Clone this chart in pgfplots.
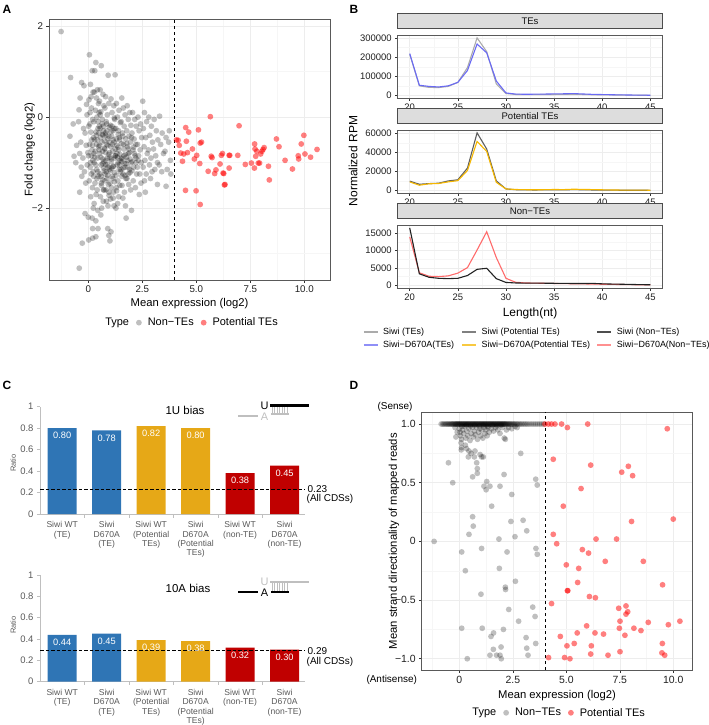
\documentclass[border=0pt]{standalone}
\usepackage{fontspec}
\setmainfont{Liberation Sans}
\usepackage{pgfplots}
\pgfplotsset{compat=1.18}
\definecolor{cblue}{HTML}{2F75B5}
\definecolor{corange}{HTML}{E6A817}
\definecolor{cred}{HTML}{C00000}
\definecolor{lgray}{HTML}{ABABAB}
\definecolor{mgray}{HTML}{5E5E5E}
\definecolor{dgray}{HTML}{222222}
\definecolor{lblue}{HTML}{6A6AF4}
\definecolor{lgold}{HTML}{F5B700}
\definecolor{lred}{HTML}{FF6B6B}
\definecolor{cgtxt}{HTML}{595959}
\definecolor{caxis}{HTML}{BFBFBF}
\pgfplotsset{
 gg/.style={scale only axis, anchor=north west, tick pos=left, tick align=outside,
   axis line style={draw=gray!70!black, line width=0.6bp},
   major tick length=2.5bp, minor tick length=0bp,
   tick style={draw=gray!40!black, line width=0.5bp},
   grid=both, major grid style={draw=gray!14, line width=0.5bp},
   minor grid style={draw=gray!7, line width=0.3bp},
   ticklabel style={font=\fontsize{9.8}{11}\selectfont, text=gray!25!black},
   label style={font=\fontsize{11.3}{13}\selectfont},
   /pgf/number format/assume math mode=true},
 nonte/.style={only marks, mark=*, mark size=2.9bp, mark options={draw=black, fill=black, draw opacity=0, fill opacity=0.25},
   legend image code/.code={\draw[##1] plot coordinates {(0bp,0bp)};}},
 pte/.style={only marks, mark=*, mark size=2.9bp, mark options={draw=red, fill=red, draw opacity=0, fill opacity=0.5},
   legend image code/.code={\draw[##1] plot coordinates {(0bp,0bp)};}},
 ggleg/.style={legend columns=-1, legend style={draw=none, fill=none, at={#1}, anchor=center,
   font=\fontsize{11}{13}\selectfont, /tikz/column sep=0bp,
   /tikz/every odd column/.append style={column sep=4bp},
   /tikz/every even column/.append style={column sep=5bp}}},
 bb/.style={gg, width=264.6bp, height=63.3bp, xmin=18.75, xmax=46.25,
   xtick={20,25,30,35,40,45}, minor xtick={22.5,27.5,32.5,37.5,42.5},
   scaled y ticks=false, ticklabel style={font=\fontsize{9.5}{11}\selectfont},
   title style={at={(0.5,1)}, anchor=south, draw=gray!60!black, line width=0.6bp, fill=gray!27,
     minimum width=264.6bp, minimum height=15.7bp, inner sep=0pt,
     font=\fontsize{9.6}{11}\selectfont, text=gray!15!black},
   every axis plot/.append style={line width=1.1bp, no markers}},
 bleg/.style={legend columns=3, legend cell align=left,
   legend image code/.code={\draw[##1] (0bp,0bp) -- (14bp,0bp);},
   legend style={draw=none, fill=none, inner sep=0pt, outer sep=0pt, at={#1}, anchor=west,
     font=\fontsize{9}{10}\selectfont, nodes={inner sep=0pt}, /tikz/column sep=0bp,
     /tikz/every odd column/.append style={column sep=4.7bp}}},
 cc/.style={scale only axis, anchor=north west, width=265bp, xmin=-0.5, xmax=5.46, ymin=0, ymax=1, clip=false,
   axis lines*=left, axis line style={-, draw=caxis, line width=0.7bp}, tick align=outside,
   tick style={draw=caxis, line width=0.6bp}, major tick length=3bp,
   ytick={0,0.2,0.4,0.6,0.8,1}, yticklabels={0,0.2,0.4,0.6,0.8,1},
   yticklabel style={font=\fontsize{9.5}{11}\selectfont, text=cgtxt},
   xtick={0,1,2,3,4,5}, xtick style={draw=none},
   xticklabels={{Siwi WT\\(TE)},{Siwi\\D670A\\(TE)},{Siwi WT\\(Potential\\TEs)},{Siwi\\D670A\\(Potential\\TEs)},{Siwi WT\\(non-TE)},{Siwi\\D670A\\(non-TE)}},
   xticklabel style={align=center, anchor=north, font=\fontsize{8.6}{9.3}\selectfont, text=cgtxt, inner sep=0pt, yshift=-4.5bp},
   nodes near coords, point meta=explicit symbolic,
   every node near coord/.append style={anchor=center, yshift=-7.5bp, text=white, font=\fontsize{9.3}{11}\selectfont},
   /pgf/number format/assume math mode=true},
 cbar/.style={ybar, bar width=29bp, bar shift=0pt, draw=none, fill=#1},
}
\begin{document}
\begin{tikzpicture}
\useasboundingbox (0,0) rectangle (709bp,-725bp);
\node[font=\bfseries\fontsize{12}{14}\selectfont] at (7bp,-9bp) {A};
\node[font=\bfseries\fontsize{12}{14}\selectfont] at (354bp,-9bp) {B};
\node[font=\bfseries\fontsize{12}{14}\selectfont] at (7bp,-385bp) {C};
\node[font=\bfseries\fontsize{12}{14}\selectfont] at (354bp,-385bp) {D};

% ---------------- Panel A ----------------
\begin{axis}[gg, at={(49bp,-19.3bp)}, width=281bp, height=260.7bp,
  xmin=-1.82, xmax=11.19, ymin=-3.58, ymax=2.15,
  xtick={0,2.5,5,7.5,10}, xticklabels={0,2.5,5.0,7.5,10.0},
  minor xtick={-1.25,1.25,3.75,6.25,8.75},
  ytick={-2,0,2}, yticklabels={−2,0,2}, minor ytick={-3,-1,1},
  xlabel={Mean expression (log2)}, ylabel={Fold change (log2)},
  ylabel shift=-10bp, xlabel shift=-1.5bp,
  ggleg={(0.5,-0.1636)}]
\addlegendimage{empty legend}\addlegendentry{Type}
\draw[black, dashed, line width=0.6bp] (axis cs:4,-3.58) -- (axis cs:4,2.15);
\addplot[nonte] coordinates {
(-1.26,1.88)(-0.82,0.87)(-0.85,-0.42)(-0.54,-0.62)(-0.66,-0.86)(-0.7,-0.15)(-0.58,-1.0)
(-0.38,0.42)(-0.43,0.16)(-0.31,0.76)(-0.2,0.69)(-0.45,-0.1)(-0.15,-0.35)(-0.35,-0.55)(-0.1,-0.62)(-0.4,-0.8)(-0.25,-0.9)(-0.05,-1.05)(-0.3,-1.3)(-0.12,-1.45)(-0.4,-1.65)(-0.15,-2.12)(-0.28,-2.77)(-0.42,-3.32)(-0.08,0.28)(-0.22,-0.25)(-0.33,-1.1)(-0.18,-1.2)(-0.02,-0.78)(-0.06,0.05)
(0.05,1.37)(0.18,1.02)(0.1,0.72)(0.22,0.55)(0.03,0.38)(0.15,0.2)(0.08,0.1)(0.2,-0.05)(0.02,-0.2)(0.12,-0.33)(0.24,-0.45)(0.06,-0.6)(0.17,-0.72)(0.01,-0.85)(0.21,-0.95)(0.09,-1.1)(0.14,-1.25)(0.04,-1.4)(0.19,-1.55)(0.11,-1.75)(0.23,-2.0)(0.0,-2.2)(0.2,-2.45)(0.02,-2.7)(0.13,0.45)(0.07,-0.15)(0.16,-0.5)(0.1,-1.0)(0.22,-1.2)(0.18,-2.22)(0.2,-2.66)
(0.35,1.2)(0.3,1.02)(0.42,0.6)(0.28,0.55)(0.47,0.3)(0.33,0.15)(0.4,0.0)(0.26,-0.1)(0.45,-0.25)(0.37,-0.4)(0.29,-0.5)(0.48,-0.65)(0.32,-0.75)(0.43,-0.9)(0.27,-1.0)(0.39,-1.15)(0.46,-1.3)(0.31,-1.45)(0.41,-1.6)(0.36,-1.7)(0.27,-1.9)(0.44,-2.05)(0.35,-2.28)(0.45,-2.45)(0.35,-2.63)(0.38,0.42)(0.49,-0.35)(0.26,-0.8)(0.34,-1.05)(0.44,-1.2)(0.39,-0.6)
(0.6,1.13)(0.55,0.6)(0.68,0.5)(0.52,0.35)(0.72,0.25)(0.58,0.12)(0.65,-0.05)(0.51,-0.2)(0.7,-0.3)(0.57,-0.45)(0.63,-0.55)(0.74,-0.68)(0.53,-0.8)(0.67,-0.92)(0.59,-1.05)(0.71,-1.12)(0.54,-1.25)(0.66,-1.38)(0.61,-1.5)(0.73,-1.6)(0.56,-1.75)(0.69,-1.85)(0.62,-2.0)(0.58,-2.15)(0.64,-0.15)(0.52,-0.62)(0.72,-0.98)(0.6,-1.3)(0.69,-0.4)(0.55,0.05)(0.66,-0.75)
(0.92,0.92)(0.8,0.45)(0.95,0.3)(0.77,0.2)(0.88,0.05)(0.83,-0.1)(0.97,-0.22)(0.79,-0.35)(0.9,-0.48)(0.85,-0.6)(0.76,-0.7)(0.94,-0.82)(0.81,-0.95)(0.89,-1.05)(0.98,-1.15)(0.78,-1.25)(0.87,-1.35)(0.93,-1.48)(0.82,-1.6)(0.96,-1.72)(0.84,-1.85)(0.91,-1.95)(0.9,-2.45)(0.95,-2.6)(0.86,-0.3)(0.8,-0.78)(0.93,-1.1)(0.77,-1.4)(0.98,-0.55)(0.88,-0.9)(0.83,-1.2)
(1.05,0.4)(1.18,0.25)(1.1,0.1)(1.22,-0.05)(1.02,-0.18)(1.15,-0.3)(1.08,-0.42)(1.2,-0.55)(1.04,-0.65)(1.13,-0.75)(1.24,-0.85)(1.06,-0.97)(1.17,-1.08)(1.01,-1.18)(1.11,-1.3)(1.21,-1.42)(1.07,-1.55)(1.16,-1.65)(1.03,-1.8)(1.19,-1.95)(1.05,-2.52)(1.0,-2.72)(1.12,-0.6)(1.23,-0.9)(1.09,-1.12)(1.14,-1.35)(1.2,-0.25)(1.24,0.93)
(1.3,0.3)(1.42,0.15)(1.35,0.0)(1.48,-0.12)(1.27,-0.25)(1.39,-0.38)(1.45,-0.5)(1.32,-0.62)(1.4,-0.72)(1.26,-0.85)(1.47,-0.95)(1.34,-1.05)(1.43,-1.15)(1.29,-1.28)(1.37,-1.4)(1.46,-1.5)(1.31,-1.62)(1.41,-1.75)(1.36,-1.9)(1.28,-2.0)(1.44,-0.45)(1.33,-0.8)(1.38,-1.0)(1.49,-1.2)
(1.55,0.42)(1.62,0.2)(1.7,0.05)(1.52,-0.1)(1.66,-0.2)(1.58,-0.35)(1.73,-0.48)(1.54,-0.58)(1.64,-0.7)(1.71,-0.82)(1.57,-0.92)(1.68,-1.02)(1.51,-1.15)(1.61,-1.25)(1.74,-1.35)(1.56,-1.5)(1.67,-1.65)(1.6,-1.78)(1.72,-1.95)(1.63,-0.6)(1.53,-0.9)(1.69,-1.1)
(1.8,0.25)(1.92,0.1)(1.85,-0.05)(1.97,-0.18)(1.78,-0.3)(1.88,-0.42)(1.95,-0.55)(1.82,-0.65)(1.9,-0.78)(1.77,-0.88)(1.98,-1.0)(1.84,-1.1)(1.93,-1.22)(1.79,-1.35)(1.87,-1.48)(1.96,-1.6)(1.75,-2.22)(1.86,-0.7)(1.81,-0.95)(1.91,-1.15)
(2.05,0.1)(2.15,-0.05)(2.22,-0.2)(2.02,-0.35)(2.12,-0.48)(2.2,-0.6)(2.07,-0.72)(2.17,-0.85)(2.03,-0.98)(2.1,-1.1)(2.24,-1.25)(2.08,-1.4)(2.18,-1.55)(2.0,-2.05)(2.13,-0.8)(2.21,-1.0)
(2.3,0.0)(2.42,-0.15)(2.35,-0.3)(2.47,-0.45)(2.28,-0.6)(2.4,-0.72)(2.33,-0.85)(2.45,-1.0)(2.27,-1.1)(2.38,-1.25)(2.44,-1.45)(2.36,-1.7)(2.31,-0.95)
(2.52,0.35)(2.6,0.1)(2.7,-0.1)(2.55,-0.25)(2.66,-0.45)(2.58,-0.65)(2.73,-0.8)(2.62,-0.95)(2.54,-1.1)(2.68,-1.25)(2.6,-1.4)(2.64,-1.65)
(2.8,0.0)(2.92,-0.2)(2.85,-0.4)(2.97,-0.55)(2.78,-0.72)(2.9,-0.9)(2.83,-1.05)(2.95,-1.2)(2.88,-1.35)
(3.05,-0.05)(3.15,-0.3)(3.22,-0.5)(3.02,-0.7)(3.12,-0.85)(3.2,-1.0)(3.08,-1.15)(3.2,-1.48)
(3.3,0.02)(3.42,-0.35)(3.35,-0.6)(3.48,-0.8)(3.28,-1.05)(3.4,-1.2)
(3.6,-0.45)(3.72,-0.55)(3.55,-0.75)(3.8,-0.95)(3.65,-1.15)(3.82,-1.25)(3.6,-1.52)(3.75,-0.3)
(0.35,-0.33)(0.42,-0.5)(0.5,-0.72)(0.58,-0.88)(0.66,-1.02)(0.74,-1.18)(0.82,-0.4)(0.9,-0.62)(0.98,-0.78)(1.06,-0.92)(1.14,-1.08)(1.22,-1.22)(1.3,-0.48)(1.38,-0.66)(1.46,-0.82)(1.54,-0.98)(1.62,-1.12)(1.7,-1.28)(1.78,-0.58)(1.86,-0.8)(1.94,-0.92)(2.02,-1.18)(2.1,-0.66)(0.45,-0.1)(0.55,-0.25)(0.65,-0.38)(0.75,-0.52)(0.85,-0.15)(0.95,-0.42)(1.05,-0.32)(1.15,-0.5)(1.25,-0.7)(1.35,-0.88)(1.45,-1.05)(1.55,-1.3)(1.65,-0.85)(1.75,-1.02)(1.85,-1.25)(0.6,-1.45)(0.7,-1.6)(0.8,-1.05)(0.9,-1.28)(1.0,-1.45)(1.1,-0.2)(1.2,-0.02)(1.0,-0.88)(0.7,-0.2)(0.5,0.1)(0.4,-1.35)(1.3,-1.55)(1.4,-0.3)(0.95,-1.65)(1.15,-1.78)(2.0,-0.45)(2.2,-0.9)(1.6,-0.42)(0.3,-0.88)(0.2,-0.62)(0.25,-1.3)(0.15,-0.85)
};
\addlegendentry{Non−TEs}
\addplot[pte] coordinates {
(4.08,-0.50)(4.16,-0.51)(4.21,-0.62)(4.28,-0.79)(4.36,-0.97)(4.51,-0.23)(4.54,-0.53)(4.65,-0.33)(4.59,-0.78)(4.42,-0.81)(4.50,-1.61)(4.82,-0.70)(4.91,-0.92)(5.02,-0.84)(5.10,-0.28)(5.18,-0.57)(5.24,-0.55)(5.16,-1.02)(4.99,-1.62)(5.18,-1.92)(5.55,-1.19)(5.65,0.01)(5.69,-0.86)(5.73,-0.89)(5.85,-1.24)(5.91,-1.16)(6.10,-1.03)(6.16,-0.84)(6.21,-0.80)(6.24,-1.23)(6.27,-1.24)(6.30,-1.49)(6.33,-1.48)(6.52,-1.12)(6.52,-0.84)(6.55,-0.84)(6.92,-0.84)(6.98,-0.19)(7.27,-1.04)(7.55,-1.01)(7.69,-1.12)(7.70,-0.59)(7.72,-0.70)(7.75,-0.86)(7.80,-0.75)(7.87,-1.01)(7.93,-1.01)(7.98,-0.81)(8.04,-0.75)(8.09,-0.71)(8.14,-0.67)(8.34,-1.08)(8.38,-1.38)(8.71,-0.48)(8.83,-0.65)(9.11,-0.95)(9.45,-1.14)(9.72,-0.85)(9.74,-0.92)(9.86,-0.59)(9.98,-0.40)(10.03,-0.81)(10.29,-0.88)(10.59,-0.71)
};
\addlegendentry{Potential TEs}
\end{axis}

% ---------------- Panel B ----------------
\node[rotate=90, font=\fontsize{12}{14}\selectfont] at (353bp,-161bp) {Normalized RPM};
\begin{axis}[bb, at={(397.7bp,-35bp)}, title={TEs}, ymin=-15000, ymax=315000,
  ytick={0,100000,200000,300000}, yticklabels={0,100000,200000,300000},
  minor ytick={50000,150000,250000}]
\addplot[lgray] coordinates {(20,215000)(21,50000)(22,42000)(23,41000)(24,47000)(25,68000)(26,145000)(27,300000)(28,228000)(29,60000)(30,10000)(31,5000)(32,4000)(33,4000)(34,5000)(35,5000)(36,5500)(37,6000)(38,5000)(39,3500)(40,3000)(41,2500)(42,2000)(43,1500)(44,1000)(45,500)};
\addplot[lblue] coordinates {(20,218000)(21,53000)(22,47000)(23,44000)(24,50000)(25,68000)(26,130000)(27,268000)(28,222000)(29,75000)(30,13000)(31,7000)(32,6000)(33,6500)(34,7000)(35,8000)(36,8500)(37,9500)(38,7500)(39,5500)(40,4500)(41,3500)(42,2800)(43,2000)(44,1500)(45,1000)};
\end{axis}
\begin{axis}[bb, at={(397.7bp,-130bp)}, title={Potential TEs}, ymin=-3000, ymax=63500,
  ytick={0,20000,40000,60000}, yticklabels={0,20000,40000,60000},
  minor ytick={10000,30000,50000}, bleg={(-0.1311,-2.3965)}]
\addplot[mgray, forget plot] coordinates {(20,9800)(21,6500)(22,7200)(23,7600)(24,10000)(25,11200)(26,23500)(27,60500)(28,43500)(29,10000)(30,1600)(31,800)(32,600)(33,500)(34,600)(35,700)(36,600)(37,900)(38,700)(39,500)(40,400)(41,300)(42,250)(43,200)(44,200)(45,150)};
\addplot[lgold, forget plot] coordinates {(20,9000)(21,5500)(22,7000)(23,7300)(24,9000)(25,10300)(26,21000)(27,51500)(28,41000)(29,8500)(30,1600)(31,1000)(32,800)(33,700)(34,800)(35,1000)(36,900)(37,1300)(38,1100)(39,900)(40,700)(41,500)(42,400)(43,300)(44,300)(45,250)};
\addlegendimage{color=lblue!75, line width=1.5bp}\addlegendentry{\makebox[78.3bp][l]{Siwi−D670A(TEs)}}
\addlegendimage{color=lgold!75, line width=1.5bp}\addlegendentry{\makebox[115bp][l]{Siwi−D670A(Potential TEs)}}
\addlegendimage{color=lred!75, line width=1.5bp}\addlegendentry{Siwi−D670A(Non−TEs)}
\end{axis}
\begin{axis}[bb, at={(397.7bp,-225bp)}, title={Non−TEs}, ymin=-900, ymax=17450,
  ytick={0,5000,10000,15000}, yticklabels={0,5000,10000,15000},
  minor ytick={2500,7500,12500},
  xlabel={Length(nt)}, xlabel style={font=\fontsize{12}{14}\selectfont},
  bleg={(-0.1311,-0.6935)}]
\addplot[lred, forget plot] coordinates {(20,14000)(21,3600)(22,2600)(23,2500)(24,2700)(25,3500)(26,5100)(27,10200)(28,15500)(29,8000)(30,2000)(31,850)(32,650)(33,600)(34,550)(35,500)(36,450)(37,420)(38,380)(39,330)(40,280)(41,230)(42,200)(43,160)(44,120)(45,100)};
\addplot[dgray, forget plot] coordinates {(20,16600)(21,3300)(22,2300)(23,2000)(24,1900)(25,2000)(26,2800)(27,4600)(28,4900)(29,1900)(30,800)(31,650)(32,600)(33,600)(34,580)(35,550)(36,520)(37,500)(38,480)(39,520)(40,400)(41,330)(42,280)(43,220)(44,160)(45,120)};
\addlegendimage{color=lgray, line width=1.5bp}\addlegendentry{\makebox[78.3bp][l]{Siwi (TEs)}}
\addlegendimage{color=gray, line width=1.5bp}\addlegendentry{\makebox[115bp][l]{Siwi (Potential TEs)}}
\addlegendimage{color=dgray!80, line width=1.5bp}\addlegendentry{Siwi (Non−TEs)}
\end{axis}

% ---------------- Panel C ----------------
\begin{axis}[cc, at={(40bp,-406.7bp)}, height=107.3bp]
\addplot[cbar=cblue] coordinates {(0,0.80)[0.80] (1,0.78)[0.78]};
\addplot[cbar=corange] coordinates {(2,0.82)[0.82] (3,0.80)[0.80]};
\addplot[cbar=cred] coordinates {(4,0.38)[0.38] (5,0.45)[0.45]};
\pgfplotsinvokeforeach{0.5,1.5,2.5,3.5,4.5}{\draw[caxis, line width=0.6bp] (axis cs:#1,0) -- ++(0bp,-3.5bp);}
\draw[black, line width=1.2bp, dash pattern=on 3.5bp off 2bp] (axis cs:-0.5,0.23) -- (axis cs:5.46,0.23);
\end{axis}
\begin{axis}[cc, at={(40bp,-575bp)}, height=106.7bp]
\addplot[cbar=cblue] coordinates {(0,0.44)[0.44] (1,0.45)[0.45]};
\addplot[cbar=corange] coordinates {(2,0.39)[0.39] (3,0.38)[0.38]};
\addplot[cbar=cred] coordinates {(4,0.32)[0.32] (5,0.30)[0.30]};
\pgfplotsinvokeforeach{0.5,1.5,2.5,3.5,4.5}{\draw[caxis, line width=0.6bp] (axis cs:#1,0) -- ++(0bp,-3.5bp);}
\draw[black, line width=1.2bp, dash pattern=on 3.5bp off 2bp] (axis cs:-0.5,0.29) -- (axis cs:5.46,0.29);
\end{axis}
\node[rotate=90, font=\fontsize{7.5}{9}\selectfont, text=cgtxt] at (13.3bp,-463bp) {Ratio};
\node[rotate=90, font=\fontsize{7.5}{9}\selectfont, text=cgtxt] at (13.3bp,-625bp) {Ratio};
\node[font=\fontsize{11.5}{13}\selectfont] at (185bp,-410bp) {1U bias};
\node[font=\fontsize{11.5}{13}\selectfont] at (188bp,-588.3bp) {10A bias};
\node[anchor=west, font=\fontsize{10}{12}\selectfont, inner sep=0pt] at (307.5bp,-488.8bp) {0.23};
\node[anchor=west, font=\fontsize{10}{12}\selectfont, inner sep=0pt] at (306.5bp,-499bp) {(All CDSs)};
\node[anchor=west, font=\fontsize{10}{12}\selectfont, inner sep=0pt] at (307.5bp,-650.8bp) {0.29};
\node[anchor=west, font=\fontsize{10}{12}\selectfont, inner sep=0pt] at (306.5bp,-661.5bp) {(All CDSs)};
% 1U diagram
\foreach \xx in {272,274.5,277,279.5,282,284.5,287} {\draw[caxis, line width=0.5bp] (\xx bp,-406.5bp) -- (\xx bp,-414bp);}
\draw[black, line width=2.3bp] (270bp,-405.5bp) -- (308.5bp,-405.5bp);
\draw[caxis, line width=2bp] (238bp,-415.5bp) -- (258bp,-415.5bp);
\draw[caxis, line width=1.5bp] (271bp,-414.2bp) -- (289bp,-414.2bp);
\node[font=\fontsize{11}{12}\selectfont, inner sep=0pt] at (264.5bp,-405.5bp) {U};
\node[font=\fontsize{11}{12}\selectfont, inner sep=0pt, text=caxis] at (264.5bp,-416.5bp) {A};
% 10A diagram
\foreach \xx in {272,274.5,277,279.5,282,284.5,287} {\draw[caxis, line width=0.5bp] (\xx bp,-583bp) -- (\xx bp,-591bp);}
\draw[caxis, line width=2.3bp] (270bp,-581.7bp) -- (308.5bp,-581.7bp);
\draw[black, line width=2.3bp] (238bp,-592.3bp) -- (258bp,-592.3bp);
\draw[black, line width=2.3bp] (271bp,-592.3bp) -- (289bp,-592.3bp);
\node[font=\fontsize{11}{12}\selectfont, inner sep=0pt, text=caxis] at (264.5bp,-582bp) {U};
\node[font=\fontsize{11}{12}\selectfont, inner sep=0pt] at (264.5bp,-592.5bp) {A};

% ---------------- Panel D ----------------
\begin{axis}[gg, at={(421.7bp,-412.3bp)}, width=270.6bp, height=257.7bp,
  xmin=-1.76, xmax=10.89, ymin=-1.096, ymax=1.10,
  xtick={0,2.5,5,7.5,10}, xticklabels={0,2.5,5.0,7.5,10.0},
  minor xtick={-1.25,1.25,3.75,6.25,8.75},
  ytick={-1,-0.5,0,0.5,1}, yticklabels={−1.0,−0.5,0,0.5,1.0}, minor ytick={-0.75,-0.25,0.25,0.75},
  ticklabel style={font=\fontsize{10.5}{12}\selectfont},
  xlabel={Mean expression (log2)}, ylabel={Mean strand directionality of mapped reads},
  ylabel shift=-11bp,
  ggleg={(0.499,-0.166)}]
\addlegendimage{empty legend}\addlegendentry{Type}
\draw[black, dashed, line width=0.6bp] (axis cs:4,-1.096) -- (axis cs:4,1.10);
\addplot[nonte] coordinates {
(-0.85,1)(-0.78,1)(-0.72,1)(-0.66,1)(-0.6,1)(-0.55,1)(-0.5,1)(-0.45,1)(-0.4,1)(-0.36,1)(-0.32,1)(-0.28,1)(-0.24,1)(-0.2,1)(-0.17,1)(-0.14,1)(-0.11,1)(-0.08,1)(-0.05,1)(-0.02,1)(0.01,1)(0.04,1)(0.07,1)(0.1,1)(0.13,1)(0.16,1)(0.19,1)(0.22,1)(0.25,1)(0.28,1)(0.31,1)(0.34,1)(0.37,1)(0.4,1)(0.43,1)(0.46,1)(0.49,1)(0.52,1)(0.55,1)(0.58,1)(0.61,1)(0.64,1)(0.67,1)(0.7,1)(0.73,1)(0.76,1)(0.79,1)(0.82,1)(0.85,1)(0.88,1)(0.91,1)(0.94,1)(0.97,1)(1.0,1)(1.03,1)(1.06,1)(1.09,1)(1.12,1)(1.15,1)(1.18,1)(1.21,1)(1.24,1)(1.27,1)(1.3,1)(1.33,1)(1.36,1)(1.39,1)(1.42,1)(1.45,1)(1.48,1)(1.51,1)(1.54,1)(1.57,1)(1.6,1)(1.63,1)(1.66,1)(1.69,1)(1.72,1)(1.75,1)(1.78,1)(1.81,1)(1.84,1)(1.87,1)(1.9,1)(1.93,1)(1.96,1)(1.99,1)(2.02,1)(2.05,1)(2.08,1)(2.11,1)(2.14,1)(2.17,1)(2.2,1)(2.24,1)(2.28,1)(2.32,1)(2.36,1)(2.4,1)(2.45,1)(2.5,1)(2.55,1)(2.6,1)(2.66,1)(2.72,1)(2.78,1)(2.85,1)(2.92,1)(3.0,1)(3.08,1)(3.16,1)(3.25,1)(3.35,1)(3.45,1)(3.55,1)(3.65,1)(3.75,1)(3.85,1)(3.95,1)
(-0.2,0.97)(-0.1,0.93)(0.0,0.96)(0.05,0.9)(0.1,0.87)(0.15,0.95)(0.2,0.92)(0.25,0.98)(0.3,0.88)(0.35,0.94)(0.4,0.9)(0.45,0.96)(0.5,0.86)(0.55,0.92)(0.6,0.97)(0.65,0.89)(0.7,0.94)(0.75,0.91)(0.8,0.97)(0.85,0.87)(0.9,0.93)(0.95,0.96)(1.0,0.9)(1.05,0.95)(1.1,0.88)(1.15,0.97)(1.2,0.92)(1.25,0.95)(1.3,0.9)(1.35,0.97)(1.4,0.93)(1.5,0.96)(1.6,0.94)(1.7,0.97)(1.8,0.95)(1.9,0.92)(2.0,0.97)(2.1,0.88)(2.15,0.87)(2.2,0.95)(2.3,0.97)(2.45,0.96)(2.6,0.98)(2.7,0.97)(0.12,0.98)(0.33,0.99)(0.52,0.985)(0.72,0.99)(0.92,0.985)(1.12,0.99)(1.32,0.98)(1.55,0.99)(1.75,0.985)(1.95,0.99)(0.28,0.82)(0.1,0.8)(0.45,0.77)(0.55,0.75)
(-0.51,0.67)(-0.31,0.50)(-1.18,0.0)(0.11,-0.09)(0.28,-0.25)(0.11,-0.74)(0.37,-1.0)(0.62,0.21)(0.65,0.13)(0.45,0.06)(1.04,-0.06)(1.01,-0.45)(1.07,-0.74)(1.48,-0.81)(1.43,-0.97)(1.60,-0.78)(1.59,-0.92)(1.74,-0.97)(1.90,-0.97)(1.96,-1.0)(1.95,-0.90)(2.06,-0.75)(1.87,-0.23)(1.85,0.02)(2.23,-0.09)(2.15,-0.39)(2.16,-0.41)(2.31,-0.58)(2.62,-0.34)(2.77,-0.68)(2.60,0.04)(2.41,0.17)(2.98,0.18)(3.15,0.09)(2.45,0.40)(1.51,0.30)(2.09,0.57)(1.90,0.47)(1.28,0.51)(1.15,0.47)(1.25,0.44)(1.43,0.47)(2.87,0.75)(3.57,0.53)(3.64,0.48)(3.58,-0.06)(3.64,-0.11)(3.43,-0.56)(3.54,-0.64)(3.12,-0.82)(3.15,-0.91)(3.21,-0.97)(3.57,-0.87)(0.62,0.55)(0.81,0.67)(0.84,0.62)(0.84,0.58)(0.70,0.72)(0.42,0.72)(0.97,0.74)(1.04,0.72)(1.12,0.72)(0.09,0.78)(0.34,0.79)(0.73,0.77)(0.08,0.84)(-0.16,0.89)(0.03,0.93)
};
\addlegendentry{Non−TEs}
\addplot[pte] coordinates {
(4.0,1.0)(4.16,1.0)(4.31,1.0)(4.47,1.0)(4.78,1.0)(5.05,0.97)(6.0,1.0)(4.39,0.70)(6.14,0.65)(7.9,0.64)(7.59,0.59)(8.1,0.56)(5.69,0.45)(4.86,0.30)(8.05,0.17)(10.0,0.19)(9.72,0.96)(4.39,0.06)(4.55,-0.02)(6.39,0.02)(7.35,0.02)(5.75,-0.07)(6.04,-0.10)(5.0,-0.20)(5.58,-0.23)(6.82,-0.17)(8.6,-0.17)(5.53,-0.35)(5.05,-0.42)(5.07,-0.42)(6.08,-0.47)(6.36,-0.48)(4.31,-0.53)(9.5,-0.37)(7.45,-0.57)(7.79,-0.55)(7.87,-0.60)(7.79,-0.62)(7.51,-0.68)(8.83,-0.69)(10.31,-0.68)(9.77,-0.71)(5.95,-0.72)(7.48,-0.74)(8.16,-0.74)(8.49,-0.76)(4.72,-0.81)(5.51,-0.78)(6.34,-0.78)(6.74,-0.79)(7.74,-0.80)(5.37,-0.87)(5.03,-0.89)(6.17,-0.89)(9.47,-0.95)(9.49,-0.87)(6.14,-0.96)(6.95,-0.97)(7.51,-0.94)(9.6,-0.97)(4.17,-0.99)(4.92,-0.99)(5.17,-1.0)
};
\addlegendentry{Potential TEs}
\end{axis}
\node[font=\fontsize{10}{12}\selectfont] at (395bp,-406.7bp) {(Sense)};
\node[font=\fontsize{10}{12}\selectfont] at (391.7bp,-680bp) {(Antisense)};
\end{tikzpicture}
\end{document}
